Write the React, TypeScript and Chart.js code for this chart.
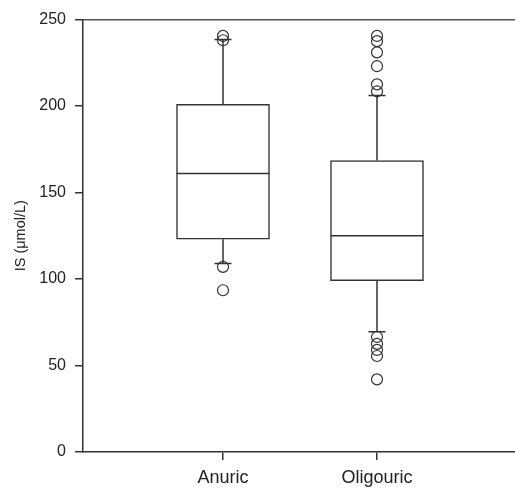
import React, { useEffect, useRef } from "react";
import { Chart, registerables } from "chart.js";

Chart.register(...registerables);

const categories = ["Anuric", "Oligouric"];
const q1 = [123, 99];
const median = [161, 125];
const q3 = [201, 168.5];
const whiskerLow = [109, 69.5];
const whiskerHigh = [238.5, 206];
const outliersAnuric = [240.5, 238, 107, 93.5];
const outliersOligouric = [240.5, 237.5, 231, 223, 212.5, 208.5, 66.5, 62.5, 59, 55.5, 42];
const yTicks = [0, 50, 100, 150, 200, 250];

const LINE = "#333333";
const FONT = "'Liberation Sans', Arial, sans-serif";

export default function App() {
  const ref = useRef<HTMLCanvasElement | null>(null);

  useEffect(() => {
    document.body.style.margin = "0";
    const canvas = ref.current;
    if (!canvas) return;
    const xMin = 1 - 140 / 154;
    const xMax = 2 + 138 / 154;
    const pos = categories.map((_, i) => i + 1);
    const outlierSets = [outliersAnuric, outliersOligouric];

    const chart = new Chart(canvas, {
      type: "bar",
      data: {
        datasets: [
          {
            type: "scatter",
            label: "median",
            order: 0,
            data: pos.map((x, i) => ({ x, y: median[i] })),
            pointStyle: "line",
            pointRadius: 46.5,
            pointBorderWidth: 1.5,
            borderColor: LINE,
            backgroundColor: LINE,
          } as any,
          {
            type: "bar",
            label: "box",
            order: 5,
            data: pos.map((x, i) => ({ x, y: [q1[i], q3[i]] })),
            backgroundColor: "#ffffff",
            borderColor: LINE,
            borderWidth: 1.5,
            borderSkipped: false,
            barThickness: 93,
          } as any,
          ...pos.map((x, i) => ({
            type: "line",
            label: "whisker" + i,
            order: 6,
            data: [
              { x, y: q3[i] },
              { x, y: whiskerHigh[i] },
              { x, y: null },
              { x, y: q1[i] },
              { x, y: whiskerLow[i] },
            ],
            borderColor: LINE,
            borderWidth: 1.5,
            pointRadius: 0,
            spanGaps: false,
            fill: false,
          })) as any[],
          {
            type: "scatter",
            label: "caps",
            order: 1,
            data: pos.flatMap((x, i) => [
              { x, y: whiskerHigh[i] },
              { x, y: whiskerLow[i] },
            ]),
            pointStyle: "line",
            pointRadius: 8.5,
            pointBorderWidth: 1.5,
            borderColor: LINE,
            backgroundColor: LINE,
          } as any,
          {
            type: "scatter",
            label: "outliers",
            order: 2,
            data: pos.flatMap((x, i) => outlierSets[i].map((y) => ({ x, y }))),
            pointStyle: "circle",
            pointRadius: 5.5,
            pointBorderWidth: 1.2,
            borderColor: LINE,
            backgroundColor: "rgba(0,0,0,0)",
          } as any,
        ],
      },
      options: {
        responsive: false,
        animation: false,
        layout: { padding: 0, autoPadding: false },
        plugins: {
          legend: { display: false },
          tooltip: { enabled: false },
        },
        scales: {
          x: {
            type: "linear",
            position: "bottom",
            offset: false,
            min: xMin,
            max: xMax,
            afterBuildTicks: (scale: any) => {
              scale.ticks = pos.map((v) => ({ value: v }));
            },
            afterFit: (scale: any) => {
              scale.height = 39;
            },
            ticks: {
              autoSkip: false,
              maxRotation: 0,
              padding: 7,
              color: "#222",
              font: { family: FONT, size: 18 },
              callback: (v: any) => categories[Math.round(Number(v)) - 1] ?? "",
            },
            grid: {
              display: true,
              offset: false,
              drawOnChartArea: false,
              drawTicks: true,
              tickLength: 8,
              color: LINE,
              lineWidth: 1.5,
            },
            border: { display: true, color: LINE, width: 1.5 },
          },
          x2: {
            type: "linear",
            position: "top",
            offset: false,
            min: xMin,
            max: xMax,
            afterFit: (scale: any) => {
              scale.height = 19.5;
            },
            ticks: { display: false },
            grid: { display: false, drawTicks: false, offset: false },
            border: { display: true, color: "#555", width: 1.5 },
          },
          y: {
            type: "linear",
            min: 0,
            max: 250,
            afterBuildTicks: (scale: any) => {
              scale.ticks = yTicks.map((v) => ({ value: v }));
            },
            afterFit: (scale: any) => {
              scale.width = 83;
            },
            ticks: {
              padding: 9,
              color: "#222",
              font: { family: FONT, size: 16 },
            },
            grid: {
              display: true,
              drawOnChartArea: false,
              drawTicks: true,
              tickLength: 8,
              color: LINE,
              lineWidth: 1.5,
            },
            border: { display: true, color: LINE, width: 1.5 },
            title: {
              display: true,
              text: "IS (μmol/L)",
              color: "#222",
              font: { family: FONT, size: 14.5 },
              padding: { top: 12, bottom: 0 },
            },
          },
        },
      } as any,
    });
    return () => chart.destroy();
  }, []);

  return (
    <div style={{ position: "absolute", left: 0, top: 0, width: 515, height: 491 }}>
      <canvas ref={ref} width={515} height={491} />
    </div>
  );
}
